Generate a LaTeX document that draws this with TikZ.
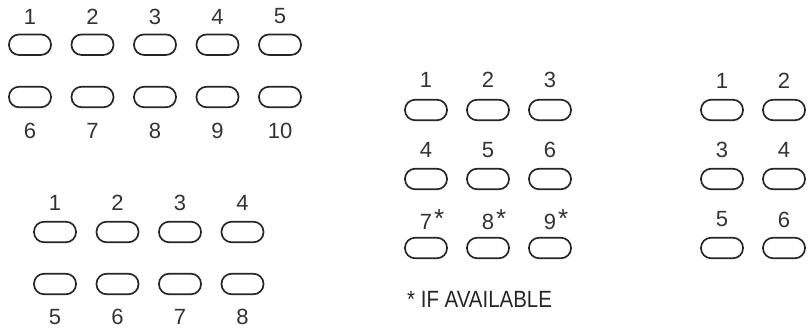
\documentclass[tikz,border=0pt]{standalone}
\usepackage{fontspec}
\setmainfont{Liberation Sans}
\newfontfamily\notefont[FakeStretch=0.87]{Liberation Sans}
\newcommand{\optmark}{\rlap{\hspace{2pt}\raisebox{2pt}{\fontsize{26}{26}\selectfont *}}}
\begin{document}
\begin{tikzpicture}[x=1pt,y=-1pt,
  pill/.style={draw=black!85, line width=1.7pt, rounded corners=10pt,
    minimum width=42pt, minimum height=20.5pt, inner sep=0pt},
  num/.style={font=\fontsize{22}{22}\selectfont, text=black!80, inner sep=0pt},
  note/.style={font=\notefont\fontsize{23.5}{24}\selectfont, text=black!85, inner sep=0pt, anchor=base west}]
\useasboundingbox (0,0) rectangle (808,330);
% group A: 10 buttons
\foreach \i [evaluate=\i as \xx using 30+62.5*(\i-1)] in {1,...,5} {
  \node[pill] (a\i) at (\xx,44.7) {};
  \node[num] (la\i) at (\xx,16.5) {\i};
}
\foreach \i [evaluate=\i as \xx using 30+62.5*(\i-6)] in {6,...,10} {
  \node[pill] (a\i) at (\xx,97) {};
  \node[num] (la\i) at (\xx,131) {\i};
}
% group B: 8 buttons
\foreach \i [evaluate=\i as \xx using 55+62.5*(\i-1)] in {1,...,4} {
  \node[pill] (b\i) at (\xx,232) {};
  \node[num] (lb\i) at (\xx,203) {\i};
}
\foreach \i [evaluate=\i as \xx using 55+62.5*(\i-5)] in {5,...,8} {
  \node[pill] (b\i) at (\xx,284) {};
  \node[num] (lb\i) at (\xx,317) {\i};
}
% group C: 9 buttons
\foreach \i [evaluate=\i as \xx using 426+62*(\i-1)] in {1,2,3} {
  \node[pill] (c\i) at (\xx,110) {};
  \node[num] (lc\i) at (\xx,80) {\i};
}
\foreach \i [evaluate=\i as \xx using 426+62*(\i-4)] in {4,5,6} {
  \node[pill] (c\i) at (\xx,179) {};
  \node[num] (lc\i) at (\xx,150) {\i};
}
\foreach \i [evaluate=\i as \xx using 426+62*(\i-7)] in {7,8,9} {
  \node[pill] (c\i) at (\xx,248) {};
  \node[num] (lc\i) at (\xx,220) {\i\optmark};
}
\node[note] (avail) at (407,307) {* IF AVAILABLE};
% group D: 6 buttons
\foreach \i in {1,...,6} {
  \pgfmathsetmacro\xx{722+62*(1-mod(\i,2))}
  \pgfmathsetmacro\yy{110+69*floor((\i-1)/2)}
  \pgfmathsetmacro\ly{80.5+69.5*floor((\i-1)/2)}
  \node[pill] (d\i) at (\xx,\yy) {};
  \node[num] (ld\i) at (\xx,\ly) {\i};
}
\end{tikzpicture}
\end{document}
